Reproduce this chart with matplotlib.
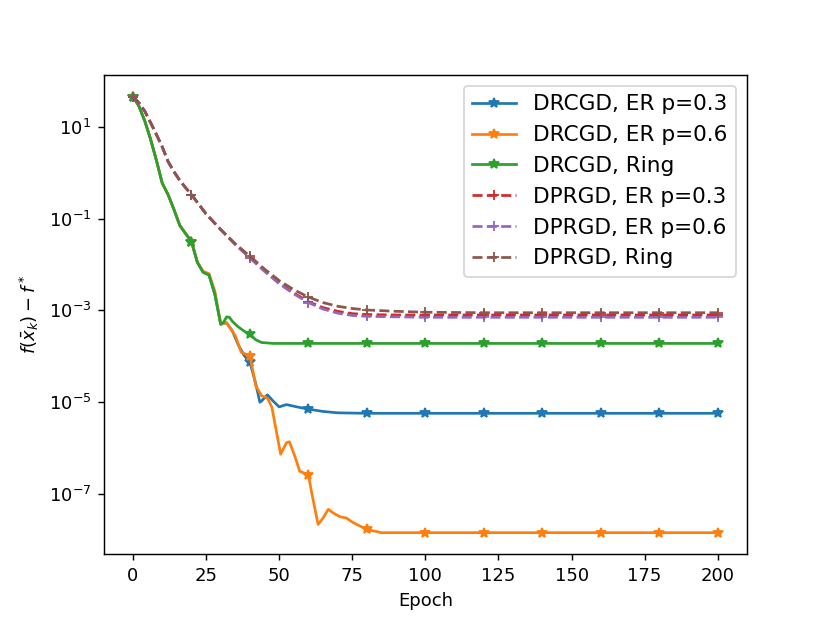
import numpy as np
import matplotlib
matplotlib.use("Agg")
import matplotlib.pyplot as plt
from matplotlib.ticker import FixedLocator, NullLocator, LogFormatterSciNotation

# epochs / values (log y axis)
drcgd_ring_epoch = [0, 2, 4, 6, 8, 10, 12, 14, 16, 18, 20, 22, 24, 26, 28, 30, 31, 32, 33, 34, 36, 38, 40,
                    42, 44, 48, 55, 60, 80, 100, 120, 140, 160, 180, 200]
drcgd_ring = [45.2, 28.2, 13.5, 5.37, 1.86, 0.589, 0.331, 0.158, 0.0708, 0.0468, 0.0316, 0.0112,
              6.76e-3, 5.89e-3, 2.24e-3, 5.01e-4, 5.50e-4, 7.24e-4, 7.08e-4, 5.75e-4, 4.37e-4, 3.55e-4,
              3.02e-4, 2.29e-4, 2.00e-4, 1.91e-4, 1.91e-4, 1.91e-4, 1.91e-4, 1.91e-4, 1.91e-4, 1.91e-4,
              1.91e-4, 1.91e-4, 1.91e-4]

drcgd_er03_epoch = [0, 2, 4, 6, 8, 10, 12, 14, 16, 18, 20, 22, 24, 26, 28, 30, 32, 34, 36, 38, 40, 42,
                    43.4, 44, 46, 48, 50, 52.5, 56, 60, 65, 70, 80, 100, 120, 140, 160, 180, 200]
drcgd_er03 = [45.2, 28.2, 13.5, 5.37, 1.86, 0.589, 0.331, 0.158, 0.0708, 0.0468, 0.0316, 0.0112,
              6.76e-3, 5.89e-3, 2.24e-3, 5.01e-4, 5.37e-4, 3.55e-4, 1.78e-4, 1.05e-4, 7.41e-5, 2.51e-5,
              1.0e-5, 1.07e-5, 1.45e-5, 1.05e-5, 7.94e-6, 8.91e-6, 7.94e-6, 7.08e-6, 6.31e-6, 5.89e-6,
              5.75e-6, 5.75e-6, 5.75e-6, 5.75e-6, 5.75e-6, 5.75e-6, 5.75e-6]

drcgd_er06_epoch = [0, 2, 4, 6, 8, 10, 12, 14, 16, 18, 20, 22, 24, 26, 28, 30, 32, 35, 37, 40, 42, 44,
                    46, 47.5, 49, 50.5, 52.5, 53.5, 55.5, 57, 60, 61, 63.3, 65, 66.8, 68.5, 70.7, 73,
                    75.3, 80, 85, 100, 120, 140, 160, 180, 200]
drcgd_er06 = [45.2, 28.2, 13.5, 5.37, 1.86, 0.589, 0.331, 0.158, 0.0708, 0.0468, 0.0316, 0.0112,
              7.08e-3, 6.31e-3, 2.63e-3, 5.01e-4, 5.37e-4, 2.82e-4, 1.23e-4, 1.02e-4, 2.29e-5, 1.38e-5,
              1.23e-5, 7.76e-6, 2.40e-6, 7.41e-7, 1.32e-6, 1.38e-6, 6.31e-7, 3.16e-7, 2.63e-7, 1.17e-7,
              2.19e-8, 3.02e-8, 4.68e-8, 3.89e-8, 3.24e-8, 3.02e-8, 2.40e-8, 1.70e-8, 1.45e-8, 1.45e-8,
              1.45e-8, 1.45e-8, 1.45e-8, 1.45e-8, 1.45e-8]

dprgd_epoch = [0, 2, 4, 6, 8, 10, 12, 14, 16, 18, 20, 25, 30, 35, 40, 45, 50, 55, 60, 65, 70, 75, 80,
               90, 100, 120, 140, 160, 180, 200]
dprgd_ring = [45.2, 33.1, 21.9, 12.3, 6.76, 3.63, 1.74, 1.05, 0.676, 0.468, 0.331, 0.126, 0.0575,
              0.0282, 0.0151, 7.94e-3, 4.47e-3, 2.82e-3, 1.95e-3, 1.48e-3, 1.23e-3, 1.10e-3, 1.02e-3,
              9.55e-4, 9.12e-4, 8.91e-4, 8.91e-4, 8.91e-4, 8.91e-4, 8.91e-4]
dprgd_er03 = [45.2, 33.1, 21.9, 12.3, 6.76, 3.63, 1.74, 1.05, 0.676, 0.468, 0.331, 0.126, 0.0575,
              0.0275, 0.0141, 7.24e-3, 3.98e-3, 2.40e-3, 1.55e-3, 1.15e-3, 9.55e-4, 8.51e-4, 8.13e-4,
              7.94e-4, 7.94e-4, 7.94e-4, 7.94e-4, 7.94e-4, 7.94e-4, 7.94e-4]
dprgd_er06 = [45.2, 33.1, 21.9, 12.3, 6.76, 3.63, 1.74, 1.05, 0.676, 0.468, 0.331, 0.126, 0.0575,
              0.0269, 0.0138, 7.08e-3, 3.80e-3, 2.29e-3, 1.48e-3, 1.07e-3, 8.71e-4, 7.76e-4, 7.41e-4,
              7.24e-4, 7.08e-4, 7.08e-4, 7.08e-4, 7.08e-4, 7.08e-4, 7.08e-4]

y_ticks = [1e1, 1e-1, 1e-3, 1e-5, 1e-7]


def marks(epochs):
    # a marker every 20 epochs
    return [i for i, e in enumerate(epochs) if e % 20 == 0]


fig, ax = plt.subplots(figsize=(830 / 130, 623 / 130), dpi=130)

ax.plot(drcgd_er03_epoch, drcgd_er03, '-*', color='C0', markevery=marks(drcgd_er03_epoch), label='DRCGD, ER p=0.3')
ax.plot(drcgd_er06_epoch, drcgd_er06, '-*', color='C1', markevery=marks(drcgd_er06_epoch), label='DRCGD, ER p=0.6')
ax.plot(drcgd_ring_epoch, drcgd_ring, '-*', color='C2', markevery=marks(drcgd_ring_epoch), label='DRCGD, Ring')
ax.plot(dprgd_epoch, dprgd_er03, '--+', color='C3', markevery=marks(dprgd_epoch), label='DPRGD, ER p=0.3')
ax.plot(dprgd_epoch, dprgd_er06, '--+', color='C4', markevery=marks(dprgd_epoch), label='DPRGD, ER p=0.6')
ax.plot(dprgd_epoch, dprgd_ring, '--+', color='C5', markevery=marks(dprgd_epoch), label='DPRGD, Ring')

ax.set_yscale('log')
ax.yaxis.set_major_locator(FixedLocator(y_ticks))
ax.yaxis.set_major_formatter(LogFormatterSciNotation())
ax.yaxis.set_minor_locator(NullLocator())

ax.set_xlabel("Epoch")
ax.set_ylabel(r"$f(\bar{x}_k) - f^*$")
ax.legend(loc='upper right', fontsize=12)

plt.savefig("out.png", dpi=130)
